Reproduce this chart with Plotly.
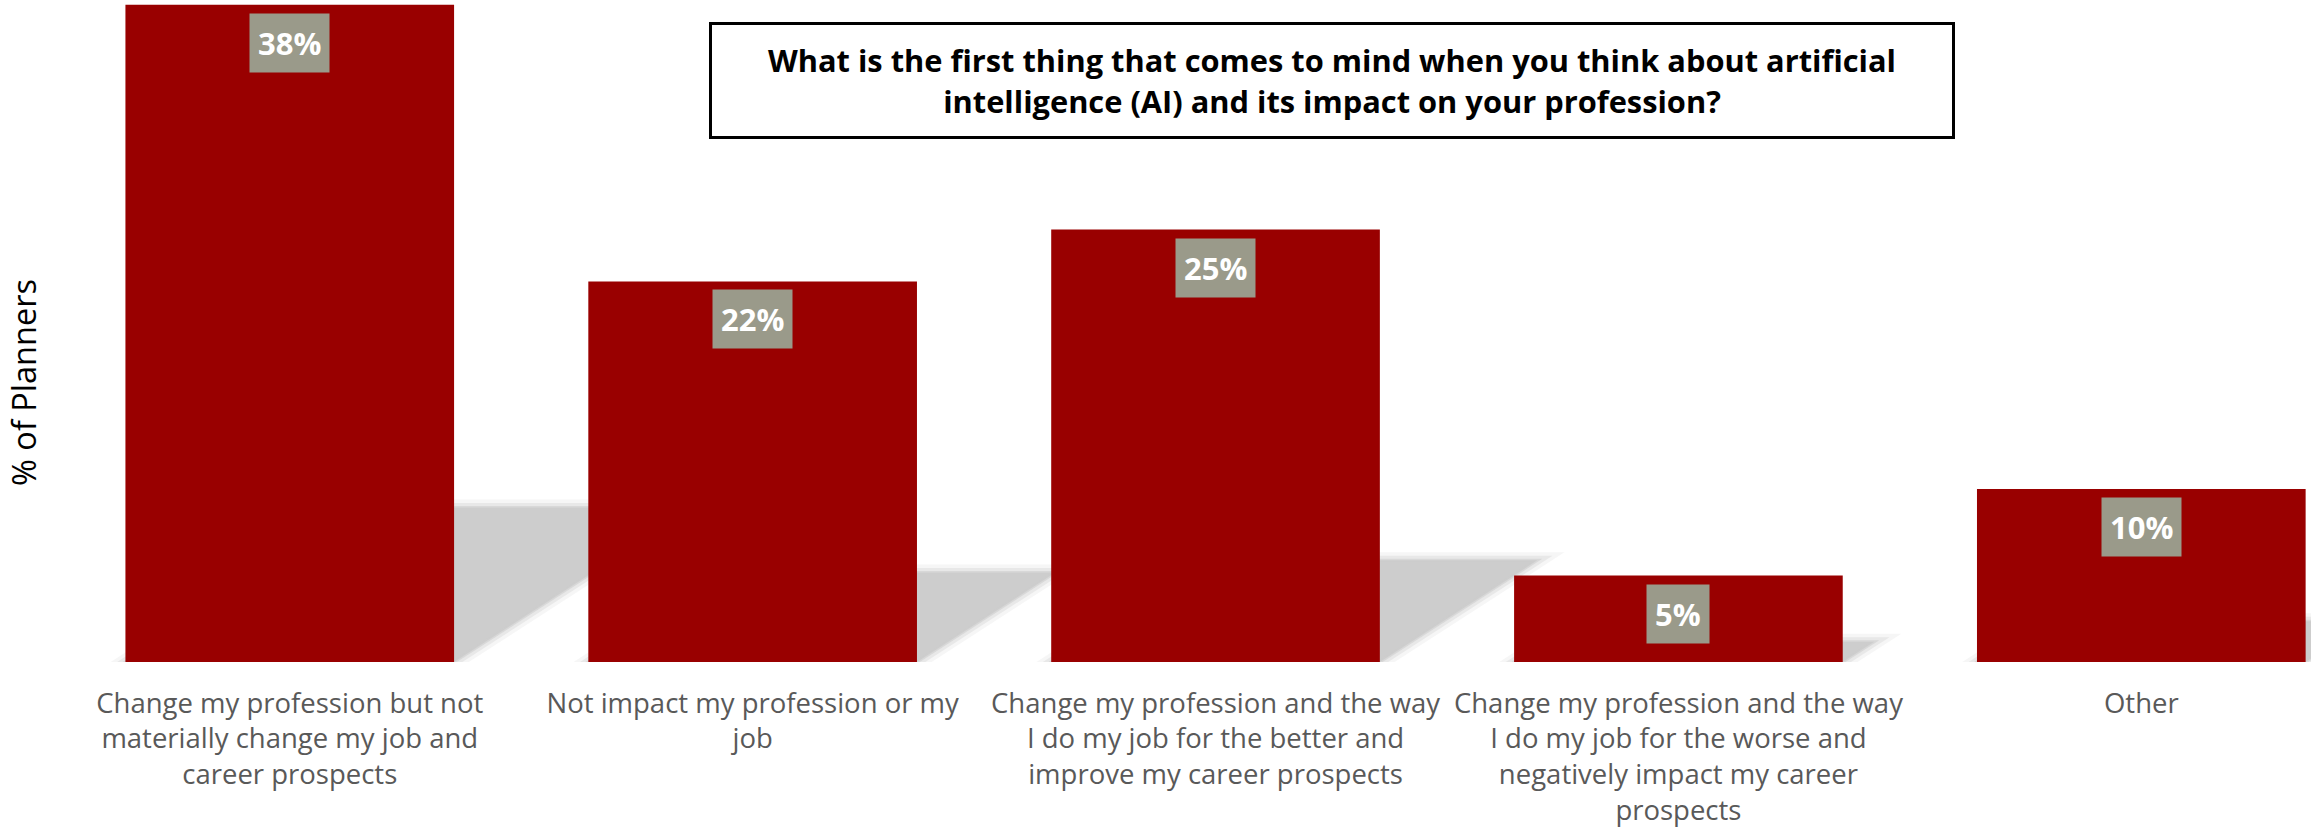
import plotly.graph_objects as go

categories = [
    "Change my profession but not<br>materially change my job and<br>career prospects",
    "Not impact my profession or my<br>job",
    "Change my profession and the way<br>I do my job for the better and<br>improve my career prospects",
    "Change my profession and the way<br>I do my job for the worse and<br>negatively impact my career<br>prospects",
    "Other",
]
values = [38, 22, 25, 5, 10]
labels = ["38%", "22%", "25%", "5%", "10%"]
title_text = ("What is the first thing that comes to mind when you think about artificial<br>"
              "intelligence (AI) and its impact on your profession?")
y_title = "% of Planners"

BAR_COLOR = "#990000"
LABEL_BG = "#9a9a8a"
BAR_W = 0.71
xs = list(range(len(values)))

fig = go.Figure()

# soft perspective shadows behind bars (drawn below the traces)
for i, v in zip(xs, values):
    hs = 0.235 * v
    s = 0.0136 * v
    pts = [(i - BAR_W / 2, 0), (i + BAR_W / 2, 0), (i + BAR_W / 2 + s, hs), (i - BAR_W / 2 + s, hs)]
    path = "M " + " L ".join("%f,%f" % p for p in pts) + " Z"
    for lw, col, fc in [(16, "rgba(205,205,205,0.18)", "rgba(0,0,0,0)"),
                        (9, "rgba(205,205,205,0.35)", "rgba(0,0,0,0)"),
                        (3, "rgba(205,205,205,0.6)", "rgb(205,205,205)")]:
        fig.add_shape(type="path", path=path, xref="x", yref="y", layer="below",
                      fillcolor=fc, line=dict(color=col, width=lw))

fig.add_trace(go.Bar(x=xs, y=values, width=BAR_W, marker=dict(color=BAR_COLOR, line=dict(width=0)),
                     showlegend=False, hoverinfo="skip"))

for i, v, t in zip(xs, values, labels):
    fig.add_annotation(x=i, y=v, xref="x", yref="y", text="<b>%s</b>" % t, showarrow=False,
                       yanchor="top", yshift=-8, bgcolor=LABEL_BG, borderpad=8,
                       font=dict(family="Open Sans", size=31, color="white"))

fig.add_annotation(xref="paper", yref="paper", x=0.566, y=0.879, text="<b>%s</b>" % title_text,
                   showarrow=False, xanchor="center", yanchor="middle",
                   width=1240, height=111, bgcolor="white", bordercolor="black", borderwidth=3,
                   borderpad=0, font=dict(family="Open Sans", size=30.8, color="black"))

fig.add_annotation(xref="paper", yref="paper", x=0, xshift=-32, y=0.4215, text=y_title,
                   textangle=-90, showarrow=False, xanchor="center", yanchor="middle",
                   font=dict(family="Open Sans", size=32.5, color="black"))

fig.update_layout(
    width=2311, height=836,
    margin=dict(l=56, r=0, t=0, b=174),
    paper_bgcolor="white", plot_bgcolor="white",
    font=dict(family="Open Sans", color="#595959"),
    xaxis=dict(range=[-0.505, 4.3666], tickmode="array", tickvals=xs, ticktext=categories,
               showgrid=False, zeroline=False, showline=False, ticks="", automargin=False,
               ticklabelstandoff=22,
               tickfont=dict(size=27.5, color="#595959")),
    yaxis=dict(range=[0, 38.27], showticklabels=False, showgrid=False, zeroline=False,
               showline=False, ticks="", automargin=False),
)

fig.write_html("out.html", config={"displayModeBar": False},
               post_script="document.body.style.margin='0';")
